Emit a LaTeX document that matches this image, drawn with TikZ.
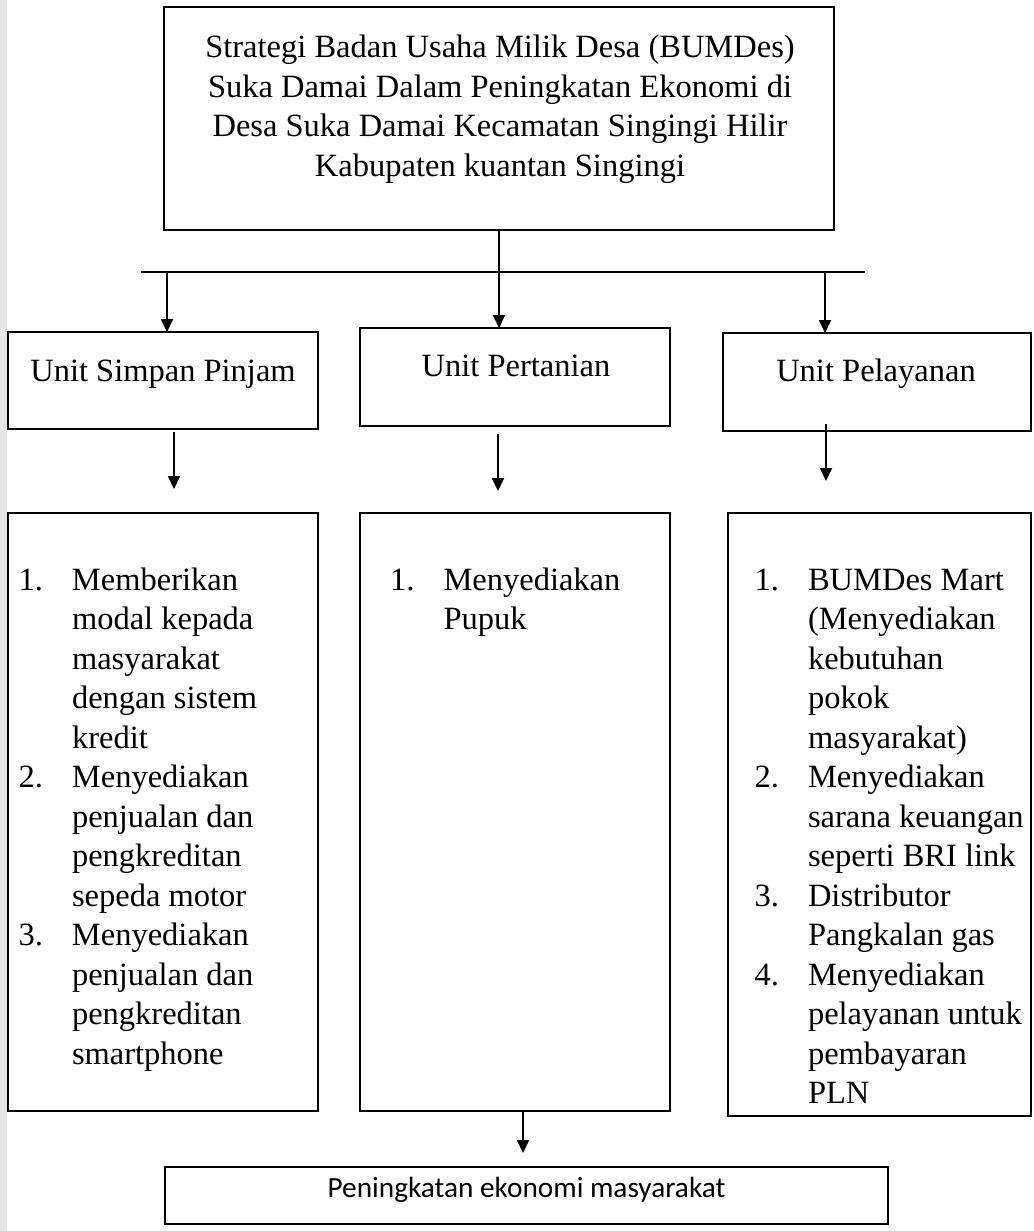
\documentclass[tikz,border=0pt]{standalone}
\usepackage{fontspec}
\setmainfont{Liberation Serif}
\newfontfamily\calib{Carlito}
\usetikzlibrary{arrows.meta}
\newcommand{\nb}[1]{\makebox[53.5pt][l]{#1}}
\begin{document}
\begin{tikzpicture}[x=1pt,y=-1pt,
  frame/.style={draw=black, line width=1.3pt, fill=white, rectangle, inner sep=0pt, outer sep=0pt, anchor=north west},
  txt/.style={inner sep=0pt, outer sep=0pt, font=\fontsize{32.5}{39.5}\selectfont},
  arr/.style={line width=1.8pt, -{Triangle[length=13pt,width=12pt]}},
  rule/.style={line width=1.3pt}
]
\useasboundingbox (0,0) rectangle (1033,1231);
\fill[white] (0,0) rectangle (1033,1231);
\clip (0,0) rectangle (1033,1231);
\fill[black!10!white] (0,0) rectangle (7,1231);

% top box
\node[frame, line width=2.3pt, minimum width=670pt, minimum height=223pt] (top) at (164,7) {};
\node[txt, anchor=base] (toptxt) at (500,58) {\begin{tabular}[t]{@{}c@{}}
Strategi Badan Usaha Milik Desa (BUMDes)\\
Suka Damai Dalam Peningkatan Ekonomi di\\
Desa Suka Damai Kecamatan Singingi Hilir\\
Kabupaten kuantan Singingi\end{tabular}};

% unit boxes
\node[frame, minimum width=310pt, minimum height=97pt] (u1) at (8,332) {};
\node[frame, minimum width=310pt, minimum height=98pt] (u2) at (360,328) {};
\node[frame, minimum width=308pt, minimum height=98pt] (u3) at (723,333) {};
\node[txt, anchor=base] (u1t) at (163,381) {Unit Simpan Pinjam};
\node[txt, anchor=base] (u2t) at (516,376) {Unit Pertanian};
\node[txt, anchor=base] (u3t) at (876,381) {Unit Pelayanan};

% list boxes
\node[frame, minimum width=310pt, minimum height=598pt] (l1) at (8,513) {};
\node[frame, minimum width=310pt, minimum height=598pt] (l2) at (360,513) {};
\node[frame, minimum width=303pt, minimum height=603pt] (l3) at (728,513) {};

\node[txt, anchor=base west] (l1t) at (18.5,590) {\begin{tabular}[t]{@{}l@{}}
\nb{1.}Memberikan\\
\nb{}modal kepada\\
\nb{}masyarakat\\
\nb{}dengan sistem\\
\nb{}kredit\\
\nb{2.}Menyediakan\\
\nb{}penjualan dan\\
\nb{}pengkreditan\\
\nb{}sepeda motor\\
\nb{3.}Menyediakan\\
\nb{}penjualan dan\\
\nb{}pengkreditan\\
\nb{}smartphone\end{tabular}};

\node[txt, anchor=base west] (l2t) at (390,590) {\begin{tabular}[t]{@{}l@{}}
\nb{1.}Menyediakan\\
\nb{}Pupuk\end{tabular}};

\node[txt, anchor=base west] (l3t) at (754.5,590) {\begin{tabular}[t]{@{}l@{}}
\nb{1.}BUMDes Mart\\
\nb{}(Menyediakan\\
\nb{}kebutuhan\\
\nb{}pokok\\
\nb{}masyarakat)\\
\nb{2.}Menyediakan\\
\nb{}sarana keuangan\\
\nb{}seperti BRI link\\
\nb{3.}Distributor\\
\nb{}Pangkalan gas\\
\nb{4.}Menyediakan\\
\nb{}pelayanan untuk\\
\nb{}pembayaran\\
\nb{}PLN\end{tabular}};

% bottom box
\node[frame, minimum width=723pt, minimum height=57pt] (bot) at (165,1167) {};
\node[inner sep=0pt, anchor=base, font=\calib\fontsize{29.3}{35}\selectfont] (bott) at (526.5,1197) {Peningkatan ekonomi masyarakat};

% connectors
\coordinate (hl) at (141,272);
\coordinate (hr) at (865,272);
\draw[rule] (hl) -- (hr);
\draw[arr] (top.south) -- (top.south |- u2.north);
\coordinate (b1) at (167,272);
\coordinate (b3) at (825,272);
\draw[arr] (b1) -- (b1 |- u1.north);
\draw[arr] (b3) -- (b3 |- u3.north);

\coordinate (c1s) at (174,432);
\coordinate (c1e) at (174,489);
\coordinate (c2s) at (498,434);
\coordinate (c2e) at (498,491);
\coordinate (c3s) at (826,424);
\coordinate (c3e) at (826,481);
\draw[arr] (c1s) -- (c1e);
\draw[arr] (c2s) -- (c2e);
\draw[arr] (c3s) -- (c3e);

\coordinate (d0) at (523,1111);
\coordinate (d1) at (523,1153);
\draw[arr] (d0 |- l2.south) -- (d1);
\end{tikzpicture}
\end{document}
